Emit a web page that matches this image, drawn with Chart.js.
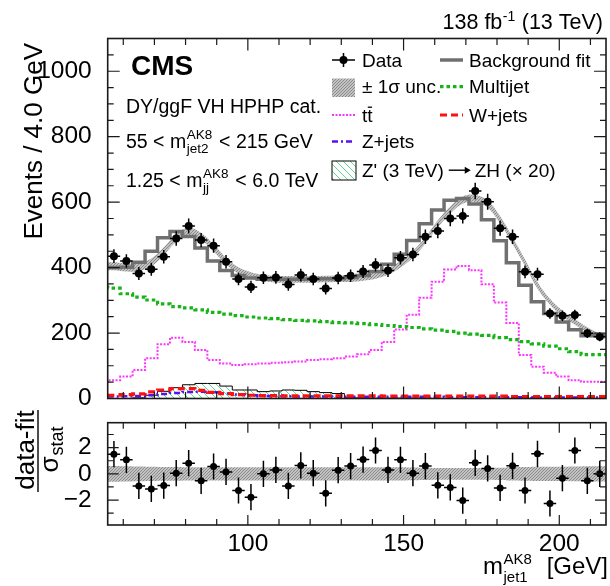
<!DOCTYPE html>
<html>
<head>
<meta charset="utf-8">
<script src="https://cdn.jsdelivr.net/npm/chart.js@4.4.1/dist/chart.umd.min.js"></script>
<style>
html, body { margin: 0; padding: 0; background: #fff; }
#wrap { position: relative; width: 610px; height: 586px; }
#main { position: absolute; left: 0; top: 0; }
#ratio { position: absolute; left: 0; top: 410px; }
</style>
</head>
<body>
<div id="wrap">
<canvas id="main" width="610" height="410"></canvas>
<canvas id="ratio" width="610" height="176"></canvas>
</div>
<script>
// m_jet1 bin centres (4 GeV bins, 55-215 GeV)
var binCenters = [57, 61, 65, 69, 73, 77, 81, 85, 89, 93, 97, 101, 105, 109, 113, 117, 121, 125, 129, 133,
                  137, 141, 145, 149, 153, 157, 161, 165, 169, 173, 177, 181, 185, 189, 193, 197, 201, 205, 209, 213];
var dataEvents = [435, 420, 382, 395, 433, 489, 527, 484, 467, 418, 365, 341, 369, 370, 348, 377, 365, 336, 368, 375,
                  388, 408, 391, 430, 440, 494, 512, 550, 558, 634, 601, 520, 494, 387, 380, 260, 253, 255, 199, 189];
var bkgFit = [404, 400, 401, 416, 450, 491, 510, 495, 460, 420, 391, 376, 368, 364, 364, 364, 364, 365, 366, 366,
              370, 376, 388, 410, 441, 483, 534, 576, 606, 611, 594, 546, 482, 415, 346, 296, 260, 234, 210, 192];
var fitUnc = [12, 12, 12, 12, 12, 12, 12, 11, 11, 10, 10, 10, 10, 10, 10, 10, 10, 10, 10, 10,
              10, 10, 10, 10, 10, 10, 11, 11, 11, 11, 11, 11, 11, 10, 10, 9, 9, 9, 8, 8];
var multijet = [345, 337, 320, 310, 301, 289, 281, 277, 271, 263, 258, 253, 249, 246, 244, 241, 239, 237, 235, 232,
                231, 229, 226, 223, 220, 217, 213, 209, 205, 200, 197, 193, 186, 180, 174, 167, 160, 152, 143, 134];
var ttbar = [48, 56, 67, 87, 123, 166, 186, 173, 148, 118, 107, 102, 105, 107, 109, 111, 113, 118, 120, 123,
             128, 135, 148, 173, 211, 256, 308, 357, 394, 405, 392, 349, 293, 231, 133, 97, 79, 67, 56, 51];
var wjets = [9, 10, 12, 14, 20, 26, 30, 30, 25, 19, 15, 12, 10, 9, 9, 8, 8, 8, 8, 8,
             8, 8, 8, 7, 7, 7, 7, 7, 7, 7, 7, 7, 7, 6, 6, 6, 6, 6, 6, 6];
var zjets = [6, 6, 7, 8, 10, 14, 17, 20, 21, 19, 15, 12, 10, 8, 7, 7, 6, 6, 6, 5,
             5, 5, 5, 5, 5, 5, 5, 5, 4, 4, 4, 4, 4, 4, 4, 3, 3, 3, 3, 3];
var zprime = [0, 0, 0, 2, 10, 22, 33, 42, 46, 46, 38, 26, 26, 21, 23, 26, 25, 21, 18, 15,
              2, 2, 1, 1, 1, 1, 1, 0, 0, 0, 0, 0, 0, 0, 0, 0, 0, 0, 0, 0];
// (data-fit)/sigma_stat
var pulls = [1.5, 1.07, -0.92, -1.15, -0.89, 0.05, 0.81, -0.53, 0.56, 0.15, -1.27, -1.78, 0.0, 0.3, -0.92, 0.64, 0.05, -1.48, 0.28, 0.59,
             1.09, 1.78, 0.3, 1.07, 0.05, 0.59, -0.87, -1.04, -2.04, 0.84, 0.41, -1.07, 0.61, -1.27, 1.53, -2.26, -0.33, 1.78, -0.53, 0.0];
var pullBand = [0.6, 0.6, 0.58, 0.56, 0.55, 0.53, 0.52, 0.5, 0.5, 0.5, 0.5, 0.5, 0.5, 0.5, 0.5, 0.5, 0.5, 0.5, 0.5, 0.5,
                0.5, 0.5, 0.5, 0.5, 0.5, 0.48, 0.46, 0.45, 0.45, 0.45, 0.45, 0.45, 0.47, 0.5, 0.52, 0.55, 0.55, 0.55, 0.56, 0.58];
var binHalf = 2;
var yTicksMain = [0, 200, 400, 600, 800, 1000];
var xTickLabels = [100, 150, 200];
var yTicksRatio = [-2, 0, 2];

var FONT = '"Liberation Sans", Arial, Helvetica, sans-serif';
function font(size, bold) { return (bold ? 'bold ' : '') + size + 'px ' + FONT; }

function stepPts(vals) {
    var pts = binCenters.map(function (c, i) { return { x: c - binHalf, y: vals[i] }; });
    pts.push({ x: binCenters[binCenters.length - 1] + binHalf, y: vals[vals.length - 1] });
    return pts;
}
function bandPts(sign) {
    var pts = binCenters.map(function (c, i) { return { x: c, y: bkgFit[i] + sign * fitUnc[i] }; });
    pts.unshift({ x: 55, y: pts[0].y });
    pts.push({ x: 215, y: pts[pts.length - 1].y });
    return pts;
}

function dotPattern() {
    var c = document.createElement('canvas');
    c.width = 3; c.height = 3;
    var g = c.getContext('2d');
    g.fillStyle = '#c2c2c2'; g.fillRect(0, 0, 3, 3);
    g.fillStyle = '#8c8c8c';
    g.fillRect(0, 0, 1, 1); g.fillRect(2, 1, 1, 1); g.fillRect(1, 2, 1, 1);
    return g.createPattern(c, 'repeat');
}
function hatchPattern() {
    var c = document.createElement('canvas');
    c.width = 7; c.height = 7;
    var g = c.getContext('2d');
    g.strokeStyle = '#5fd98f'; g.lineWidth = 1;
    g.beginPath();
    g.moveTo(-1, -1); g.lineTo(8, 8);
    g.stroke();
    return g.createPattern(c, 'repeat');
}
var bandFill = dotPattern();
var sigFill = hatchPattern();

var styles = {
    fit: { borderColor: '#707070', borderWidth: 3.5, borderDash: [] },
    multijet: { borderColor: '#16b416', borderWidth: 3.2, borderDash: [3.5, 3] },
    ttbar: { borderColor: '#ff33ff', borderWidth: 2, borderDash: [2, 1.5] },
    wjets: { borderColor: '#ff1010', borderWidth: 3.2, borderDash: [7, 4] },
    zjets: { borderColor: '#5a10f0', borderWidth: 2.5, borderDash: [6, 3, 2, 3] }
};

// error bars drawn just before the points of a dataset
var errorBarPlugin = {
    id: 'errbars',
    beforeDatasetDraw: function (chart, args) {
        var ds = chart.data.datasets[args.index];
        if (!ds.errBars) return;
        var xs = chart.scales.x, ys = chart.scales.y, ctx = chart.ctx, a = chart.chartArea;
        ctx.save();
        ctx.beginPath(); ctx.rect(a.left, a.top, a.right - a.left, a.bottom - a.top); ctx.clip();
        ctx.strokeStyle = '#000'; ctx.lineWidth = 1.5;
        ctx.beginPath();
        ds.data.forEach(function (p) {
            var px = xs.getPixelForValue(p.x), py = ys.getPixelForValue(p.y);
            ctx.moveTo(xs.getPixelForValue(p.x - p.xErr), py);
            ctx.lineTo(xs.getPixelForValue(p.x + p.xErr), py);
            ctx.moveTo(px, ys.getPixelForValue(p.y - p.yErr));
            ctx.lineTo(px, ys.getPixelForValue(p.y + p.yErr));
        });
        ctx.stroke();
        ctx.restore();
    }
};

// frame + inward ticks on all four sides
var framePlugin = {
    id: 'frame',
    afterDraw: function (chart) {
        var o = chart.options.plugins.frame;
        if (!o) return;
        var a = chart.chartArea, ctx = chart.ctx, xs = chart.scales.x, ys = chart.scales.y;
        ctx.save();
        ctx.strokeStyle = '#1a1a1a'; ctx.lineWidth = 1.6;
        ctx.strokeRect(a.left, a.top, a.right - a.left, a.bottom - a.top);
        ctx.lineWidth = 1.2;
        ctx.beginPath();
        o.xTicks.forEach(function (t) {
            var px = xs.getPixelForValue(t.v), L = t.major ? o.xLen[0] : o.xLen[1];
            ctx.moveTo(px, a.bottom); ctx.lineTo(px, a.bottom - L);
            ctx.moveTo(px, a.top); ctx.lineTo(px, a.top + L);
        });
        o.yTicks.forEach(function (t) {
            var py = ys.getPixelForValue(t.v), L = t.major ? o.yLen[0] : o.yLen[1];
            ctx.moveTo(a.left, py); ctx.lineTo(a.left + L, py);
            ctx.moveTo(a.right, py); ctx.lineTo(a.right - L, py);
        });
        ctx.stroke();
        ctx.restore();
    }
};

// text with stacked super/subscripts
function drawRich(ctx, x, y, parts, size, small, align) {
    function w(p) {
        if (p.t !== undefined) { ctx.font = font(size); return ctx.measureText(p.t).width; }
        ctx.font = font(small);
        return Math.max(p.sup ? ctx.measureText(p.sup).width : 0, p.sub ? ctx.measureText(p.sub).width : 0) + (p.pad || 0);
    }
    var total = parts.reduce(function (s, p) { return s + w(p); }, 0);
    if (align === 'right') x -= total;
    ctx.textAlign = 'left'; ctx.textBaseline = 'alphabetic';
    parts.forEach(function (p) {
        var pw = w(p);
        if (p.t !== undefined) { ctx.font = font(size); ctx.fillText(p.t, x, y); }
        else {
            ctx.font = font(small);
            if (p.sup) ctx.fillText(p.sup, x + 0.5, y - (p.up || size * 0.44));
            if (p.sub) ctx.fillText(p.sub, x + 0.5, y + (p.down || size * 0.27));
        }
        x += pw;
    });
}

function legendLine(ctx, x1, x2, y, st) {
    ctx.save();
    ctx.strokeStyle = st.borderColor; ctx.lineWidth = st.borderWidth;
    ctx.setLineDash(st.borderDash || []);
    ctx.beginPath(); ctx.moveTo(x1, y); ctx.lineTo(x2, y); ctx.stroke();
    ctx.restore();
}

var mainTextPlugin = {
    id: 'mainText',
    afterDraw: function (chart) {
        var ctx = chart.ctx;
        ctx.save();
        ctx.fillStyle = '#000';
        // lumi label
        drawRich(ctx, 603, 29, [{ t: '138 fb' }, { sup: '-1', up: 8, pad: 1 }, { t: ' (13 TeV)' }], 21.5, 14, 'right');
        // CMS
        ctx.font = font(28, true); ctx.textAlign = 'left'; ctx.textBaseline = 'alphabetic';
        ctx.fillText('CMS', 131, 75);
        // category text
        ctx.font = font(19.5);
        ctx.fillText('DY/ggF VH HPHP cat.', 126, 113);
        drawRich(ctx, 126, 148, [{ t: '55 < m' }, { sup: 'AK8', sub: 'jet2', pad: 2 }, { t: ' < 215 GeV' }], 19.5, 13.5);
        drawRich(ctx, 126, 187, [{ t: '1.25 < m' }, { sup: 'AK8', sub: 'jj', pad: 2 }, { t: ' < 6.0 TeV' }], 19.5, 13.5);
        // y title
        ctx.save();
        ctx.translate(41.5, 43); ctx.rotate(-Math.PI / 2);
        ctx.font = font(26); ctx.textAlign = 'right'; ctx.textBaseline = 'alphabetic';
        ctx.fillText('Events / 4.0 GeV', 0, 0);
        ctx.restore();

        // legend
        var c1 = [332, 355], c2 = [440, 463], tx1 = 362, tx2 = 469;
        var rows = [66.7, 93.3, 121.7, 148.3, 176.7];
        ctx.font = font(19); ctx.textAlign = 'left';
        // Data
        var cy = rows[0] - 6.7;
        ctx.strokeStyle = '#000'; ctx.lineWidth = 1.5;
        ctx.beginPath(); ctx.moveTo(c1[0], cy); ctx.lineTo(c1[1], cy);
        ctx.moveTo(343.5, cy - 7); ctx.lineTo(343.5, cy + 7); ctx.stroke();
        ctx.beginPath(); ctx.arc(343.5, cy, 4, 0, Math.PI * 2); ctx.fill();
        ctx.fillText('Data', tx1, rows[0]);
        // band
        ctx.fillStyle = bandFill; ctx.fillRect(c1[0], 78.5, c1[1] - c1[0], 18.5);
        ctx.fillStyle = '#000';
        ctx.fillText('\u00b1 1\u03c3 unc.', tx1, rows[1]);
        // ttbar
        legendLine(ctx, c1[0], c1[1], rows[2] - 6.7, styles.ttbar);
        ctx.fillText('tt', tx1, rows[2]);
        var tw = ctx.measureText('t').width;
        ctx.lineWidth = 1.3; ctx.beginPath();
        ctx.moveTo(tx1 + tw + 0.5, rows[2] - 14.5); ctx.lineTo(tx1 + 2 * tw - 0.5, rows[2] - 14.5); ctx.stroke();
        // Z+jets
        legendLine(ctx, c1[0], c1[1], rows[3] - 6.7, styles.zjets);
        ctx.fillText('Z+jets', tx1, rows[3]);
        // signal
        ctx.fillStyle = sigFill; ctx.fillRect(c1[0], 161, c1[1] - c1[0] + 1, 19);
        ctx.strokeStyle = '#000'; ctx.lineWidth = 1; ctx.strokeRect(c1[0], 161, c1[1] - c1[0] + 1, 19);
        ctx.fillStyle = '#000';
        var s1 = "Z' (3 TeV)";
        ctx.fillText(s1, tx1, rows[4]);
        var ax = tx1 + ctx.measureText(s1).width + 5, ay = rows[4] - 6.5;
        ctx.lineWidth = 1.4; ctx.beginPath(); ctx.moveTo(ax, ay); ctx.lineTo(ax + 20, ay); ctx.stroke();
        ctx.beginPath(); ctx.moveTo(ax + 22, ay); ctx.lineTo(ax + 16, ay - 3.5); ctx.lineTo(ax + 16, ay + 3.5); ctx.closePath(); ctx.fill();
        ctx.fillText('ZH (\u00d7 20)', ax + 26, rows[4]);
        // right column
        legendLine(ctx, c2[0], c2[1], rows[0] - 6.7, styles.fit);
        ctx.fillText('Background fit', tx2, rows[0]);
        legendLine(ctx, c2[0], c2[1], rows[1] - 6.7, styles.multijet);
        ctx.fillText('Multijet', tx2, rows[1]);
        legendLine(ctx, c2[0], c2[1], rows[2] - 6.7, styles.wjets);
        ctx.fillText('W+jets', tx2, rows[2]);
        ctx.restore();
    }
};

var ratioTextPlugin = {
    id: 'ratioText',
    afterDraw: function (chart) {
        var ctx = chart.ctx;
        ctx.save();
        ctx.fillStyle = '#000'; ctx.strokeStyle = '#000';
        // y title as fraction, rotated (canvas offset 410)
        ctx.translate(38, 450 - 410); ctx.rotate(-Math.PI / 2);
        ctx.font = font(26); ctx.textAlign = 'center'; ctx.textBaseline = 'alphabetic';
        ctx.fillText('data-fit', 0, -4);
        ctx.lineWidth = 1.4; ctx.beginPath(); ctx.moveTo(-42, 0); ctx.lineTo(42, 0); ctx.stroke();
        ctx.font = font(26); var sw = ctx.measureText('\u03c3').width;
        ctx.font = font(18); var stw = ctx.measureText('stat').width;
        var x0 = -(sw + stw) / 2;
        ctx.textAlign = 'left';
        ctx.font = font(26); ctx.fillText('\u03c3', x0, 20);
        ctx.font = font(18); ctx.fillText('stat', x0 + sw + 1, 25);
        ctx.restore();
        // x title
        ctx.save();
        ctx.fillStyle = '#000';
        drawRich(ctx, 608, 574 - 410, [{ t: 'm' }, { sup: 'AK8', sub: 'jet1', pad: 2, up: 10, down: 8 }, { t: '  [GeV]' }], 24, 15, 'right');
        ctx.restore();
    }
};

var xTickList = [];
for (var v = 60; v <= 210; v += 10) xTickList.push({ v: v, major: xTickLabels.indexOf(v) >= 0 });
var yTickListMain = [];
for (var w = 50; w <= 1050; w += 50) yTickListMain.push({ v: w, major: w % 200 === 0 });
var yTickListRatio = [];
for (var r = -3; r <= 3; r += 1) yTickListRatio.push({ v: r, major: yTicksRatio.indexOf(r) >= 0 });

function lineDs(label, vals, st, order) {
    return {
        label: label, data: stepPts(vals), stepped: 'after', order: order,
        borderColor: st.borderColor, borderWidth: st.borderWidth, borderDash: st.borderDash,
        pointRadius: 0, fill: false
    };
}

var mainChart = new Chart(document.getElementById('main'), {
    type: 'line',
    data: {
        datasets: [
            {
                label: 'Data', order: 0, errBars: true, showLine: false,
                data: binCenters.map(function (c, i) { return { x: c, y: dataEvents[i], xErr: binHalf, yErr: Math.sqrt(dataEvents[i]) }; }),
                pointRadius: 4, pointBackgroundColor: '#000', pointBorderWidth: 0
            },
            lineDs('Background fit', bkgFit, styles.fit, 1),
            { label: 'unc up', data: bandPts(1), order: 2, tension: 0.4, pointRadius: 0, borderWidth: 0, fill: false },
            { label: 'unc down', data: bandPts(-1), order: 2, tension: 0.4, pointRadius: 0, borderWidth: 0, fill: '-1', backgroundColor: bandFill },
            lineDs('Multijet', multijet, styles.multijet, 3),
            lineDs('ttbar', ttbar, styles.ttbar, 4),
            lineDs('W+jets', wjets, styles.wjets, 5),
            lineDs('Z+jets', zjets, styles.zjets, 6),
            {
                label: 'Zprime', data: stepPts(zprime), stepped: 'after', order: 7, pointRadius: 0,
                borderColor: '#000', borderWidth: 1, fill: 'origin', backgroundColor: sigFill
            }
        ]
    },
    options: {
        responsive: false, animation: false, events: [],
        layout: { padding: { left: 0, right: 3, top: 38.5, bottom: 11.5 } },
        plugins: {
            legend: { display: false }, tooltip: { enabled: false },
            frame: { xTicks: xTickList, yTicks: yTickListMain, xLen: [12, 6.5], yLen: [12, 6] }
        },
        scales: {
            x: { type: 'linear', min: 55, max: 215, display: false },
            y: {
                min: 0, max: 1100,
                grid: { display: false }, border: { display: false },
                afterBuildTicks: function (s) { s.ticks = yTicksMain.map(function (v) { return { value: v }; }); },
                afterFit: function (s) { s.width = 107.7; s.paddingTop = 0; s.paddingBottom = 0; },
                ticks: {
                    font: { family: FONT, size: 24.5 }, color: '#000', padding: 8,
                    callback: function (v) { return String(v); }
                }
            }
        }
    },
    plugins: [errorBarPlugin, framePlugin, mainTextPlugin]
});

function pullBandPts(sign) {
    var pts = binCenters.map(function (c, i) { return { x: c - binHalf, y: sign * pullBand[i] }; });
    pts.push({ x: 215, y: sign * pullBand[pullBand.length - 1] });
    return pts;
}

var ratioChart = new Chart(document.getElementById('ratio'), {
    type: 'line',
    data: {
        datasets: [
            {
                label: 'pull', order: 0, errBars: true, showLine: false,
                data: binCenters.map(function (c, i) { return { x: c, y: pulls[i], xErr: binHalf, yErr: 1 }; }),
                pointRadius: 3.5, pointBackgroundColor: '#000', pointBorderWidth: 0
            },
            { label: 'band up', data: pullBandPts(1), stepped: 'after', order: 1, pointRadius: 0, borderWidth: 0, fill: false },
            { label: 'band down', data: pullBandPts(-1), stepped: 'after', order: 1, pointRadius: 0, borderWidth: 0, fill: '-1', backgroundColor: bandFill }
        ]
    },
    options: {
        responsive: false, animation: false, events: [],
        layout: { padding: { left: 0, right: 3, top: 12.7, bottom: 0 } },
        plugins: {
            legend: { display: false }, tooltip: { enabled: false },
            frame: { xTicks: xTickList, yTicks: yTickListRatio, xLen: [10, 6], yLen: [11, 6] }
        },
        scales: {
            x: {
                type: 'linear', min: 55, max: 215,
                grid: { display: false }, border: { display: false },
                afterBuildTicks: function (s) { s.ticks = xTickLabels.map(function (v) { return { value: v }; }); },
                afterFit: function (s) { s.height = 61; s.paddingLeft = 0; s.paddingRight = 0; },
                ticks: { font: { family: FONT, size: 24.5 }, color: '#000', padding: -3, maxRotation: 0 }
            },
            y: {
                min: -3.9, max: 3.9,
                grid: { display: false }, border: { display: false },
                afterBuildTicks: function (s) { s.ticks = yTicksRatio.map(function (v) { return { value: v }; }); },
                afterFit: function (s) { s.width = 107.7; s.paddingTop = 0; s.paddingBottom = 0; },
                ticks: {
                    font: { family: FONT, size: 24.5 }, color: '#000', padding: 8,
                    callback: function (v) { return v < 0 ? '\u2212' + Math.abs(v) : String(v); }
                }
            }
        }
    },
    plugins: [errorBarPlugin, framePlugin, ratioTextPlugin]
});
</script>
</body>
</html>
